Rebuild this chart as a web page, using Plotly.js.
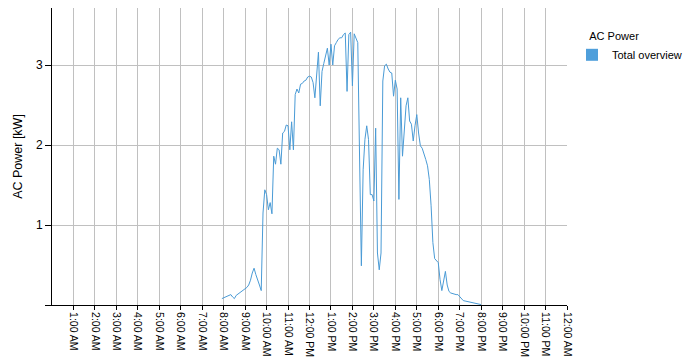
<!DOCTYPE html>
<html>
<head>
<meta charset="utf-8">
<script src="https://cdn.plot.ly/plotly-3.0.1.min.js"></script>
<style>
  html, body { margin: 0; padding: 0; background: #ffffff; }
  #chart { width: 698px; height: 362px; }
</style>
</head>
<body>
<div id="chart"></div>
<script>
// Series: AC power in kW, one reading every 5 minutes starting 07:55
const seriesName = "Total overview";
const legendTitle = "AC Power";
const firstReading = "2024-01-01 07:55";
const readingStepMs = 300000;
const acPowerKw = [
  0.08, 0.09, 0.10, 0.11, 0.12, 0.13, 0.10, 0.08, 0.12, 0.135,
  0.15, 0.17, 0.19, 0.20, 0.22, 0.25, 0.31, 0.40, 0.46, 0.38,
  0.30, 0.25, 0.18, 1.15, 1.44, 1.38, 1.19, 1.28, 1.14, 1.86,
  1.76, 1.96, 1.94, 1.76, 2.15, 2.17, 2.25, 2.24, 1.94, 2.29,
  1.94, 2.63, 2.70, 2.65, 2.76, 2.77, 2.80, 2.81, 2.85, 2.86,
  2.85, 2.78, 2.59, 2.85, 3.16, 2.49, 2.92, 3.02, 3.12, 3.21,
  3.00, 3.26, 3.00, 3.24, 3.28, 3.32, 3.34, 3.34, 3.38, 3.40,
  2.67, 3.38, 3.41, 2.74, 3.39, 3.34, 3.28, 1.85, 0.49, 1.69,
  2.07, 2.24, 2.07, 1.38, 1.38, 1.30, 2.21, 0.65, 0.44, 0.65,
  2.80, 2.99, 3.01, 2.95, 2.91, 2.90, 2.61, 2.81, 2.70, 1.32,
  2.59, 1.86, 2.24, 2.49, 2.59, 2.30, 2.26, 2.05, 2.24, 2.38,
  2.15, 1.99, 1.96, 1.90, 1.82, 1.74, 1.57, 1.24, 0.78, 0.58,
  0.55, 0.53, 0.32, 0.18, 0.30, 0.42, 0.25, 0.17, 0.15, 0.14,
  0.14, 0.13, 0.13, 0.10, 0.07, 0.055, 0.05, 0.045, 0.035, 0.03,
  0.025, 0.02, 0.015, 0.01, 0.008, 0.005
];

// X axis ticks
const tickTimes = [
  "2024-01-01 01:00", "2024-01-01 02:00", "2024-01-01 03:00", "2024-01-01 04:00",
  "2024-01-01 05:00", "2024-01-01 06:00", "2024-01-01 07:00", "2024-01-01 08:00",
  "2024-01-01 09:00", "2024-01-01 10:00", "2024-01-01 11:00", "2024-01-01 12:00",
  "2024-01-01 13:00", "2024-01-01 14:00", "2024-01-01 15:00", "2024-01-01 16:00",
  "2024-01-01 17:00", "2024-01-01 18:00", "2024-01-01 19:00", "2024-01-01 20:00",
  "2024-01-01 21:00", "2024-01-01 22:00", "2024-01-01 23:00", "2024-01-02 00:00"
];
const tickLabels = [
  "1:00 AM", "2:00 AM", "3:00 AM", "4:00 AM", "5:00 AM", "6:00 AM",
  "7:00 AM", "8:00 AM", "9:00 AM", "10:00 AM", "11:00 AM", "12:00 PM",
  "1:00 PM", "2:00 PM", "3:00 PM", "4:00 PM", "5:00 PM", "6:00 PM",
  "7:00 PM", "8:00 PM", "9:00 PM", "10:00 PM", "11:00 PM", "12:00 AM"
];
const dayRange = ["2024-01-01 00:00", "2024-01-02 00:00"];

// Y axis ticks
const yTickVals = [0, 1, 2, 3];
const yTickText = ["", "1", "2", "3"];

const lineColor = "#4a9bd6";
const fontFamily = "'Liberation Sans', Arial, sans-serif";

const traces = [
  {
    type: "scatter",
    mode: "lines",
    x0: firstReading,
    dx: readingStepMs,
    y: acPowerKw,
    name: seriesName,
    showlegend: false,
    line: { color: lineColor, width: 1 },
    hoverinfo: "x+y"
  },
  {
    // legend-only entry (no drawn bars): shows the series swatch
    type: "bar",
    x: [null],
    y: [null],
    name: seriesName,
    showlegend: true,
    marker: { color: "#4f9fdb" }
  }
];

const layout = {
  width: 698,
  height: 362,
  margin: { l: 52, r: 131, t: 8, b: 57, pad: 0 },
  paper_bgcolor: "#ffffff",
  plot_bgcolor: "#ffffff",
  font: { family: fontFamily, color: "#000000", size: 11 },
  showlegend: true,
  legend: {
    xref: "container",
    yref: "container",
    x: 572 / 698,
    y: 1 - 26 / 362,
    xanchor: "left",
    yanchor: "top",
    bgcolor: "rgba(0,0,0,0)",
    borderwidth: 0,
    font: { family: fontFamily, size: 11, color: "#000000" },
    title: { text: "\u00a0\u00a0\u00a0\u00a0\u00a0" + legendTitle, font: { family: fontFamily, size: 11, color: "#000000" } },
    tracegroupgap: 0
  },
  xaxis: {
    type: "date",
    range: dayRange,
    tickmode: "array",
    tickvals: tickTimes,
    ticktext: tickLabels,
    tickangle: 90,
    tickfont: { family: fontFamily, size: 10.5, color: "#000000" },
    ticks: "outside",
    ticklen: 4,
    tickcolor: "#000000",
    tickwidth: 1,
    showgrid: true,
    gridcolor: "#c0c0c0",
    gridwidth: 1,
    showline: true,
    linecolor: "#000000",
    linewidth: 1,
    zeroline: false,
    automargin: false,
    fixedrange: true
  },
  yaxis: {
    range: [0, 3.7125],
    tickmode: "array",
    tickvals: yTickVals,
    ticktext: yTickText,
    tickfont: { family: fontFamily, size: 12, color: "#000000" },
    ticks: "outside",
    ticklen: 6,
    tickcolor: "#000000",
    tickwidth: 1,
    showgrid: true,
    gridcolor: "#c0c0c0",
    gridwidth: 1,
    showline: true,
    linecolor: "#000000",
    linewidth: 1,
    zeroline: false,
    automargin: false,
    fixedrange: true,
    title: { text: "AC Power [kW]", font: { family: fontFamily, size: 12.5, color: "#000000" }, standoff: 10 }
  }
};

Plotly.newPlot("chart", traces, layout, { displayModeBar: false, staticPlot: true });
</script>
</body>
</html>
